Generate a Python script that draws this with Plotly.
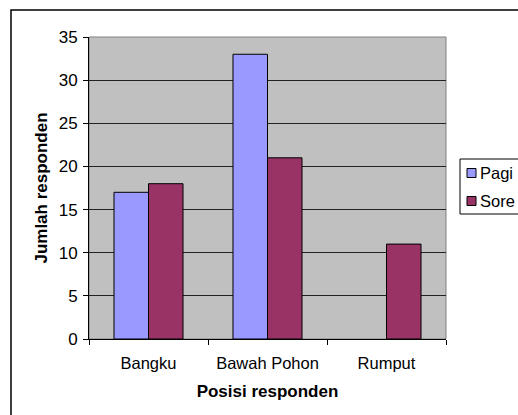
import plotly.graph_objects as go

# Response counts per seating position, morning vs afternoon
positions = ["Bangku", "Bawah Pohon", "Rumput"]
pagi = [17, 33, 0]
sore = [18, 21, 11]
y_ticks = [0, 5, 10, 15, 20, 25, 30, 35]

series_names = ["Pagi", "Sore"]
series_colors = ["#9999FF", "#993366"]

W, H = 518, 415
L, R, T, B = 89, 72, 37, 76
pw, ph = W - L - R, H - T - B


def px_x(x):
    return (x - L) / pw


def px_y(y):
    return (H - B - y) / ph


font = "Liberation Sans, Arial, sans-serif"

fig = go.Figure()
for name, vals, color in zip(series_names, [pagi, sore], series_colors):
    fig.add_trace(go.Bar(
        name=name, x=positions, y=vals,
        marker=dict(color=color,
                    line=dict(color="black", width=[1 if v else 0 for v in vals])),
        showlegend=False,
    ))

fig.update_layout(
    width=W, height=H,
    margin=dict(l=L, r=R, t=T, b=B, autoexpand=False),
    paper_bgcolor="white",
    plot_bgcolor="#C0C0C0",
    barmode="group",
    bargap=0.42,
    bargroupgap=0,
    font=dict(family=font, size=16, color="black"),
    xaxis=dict(
        title=dict(text="<b>Posisi responden</b>", font=dict(size=17), standoff=14),
        showline=True, linecolor="black", linewidth=1,
        ticks="outside", tickson="boundaries", ticklen=5, tickcolor="black",
        tickfont=dict(size=16.5), ticklabelstandoff=9,
        showgrid=False,
    ),
    yaxis=dict(
        title=dict(text="<b>Jumlah responden</b>", font=dict(size=17), standoff=6),
        range=[0, 35], tickvals=y_ticks,
        showline=True, linecolor="black", linewidth=1,
        ticks="outside", ticklen=5, tickcolor="black",
        tickfont=dict(size=17), ticklabelstandoff=2,
        showgrid=True, gridcolor="#222222", gridwidth=1,
        zeroline=False,
    ),
    showlegend=False,
)

# plot area frame on the top and right sides
fig.add_shape(type="rect", xref="paper", yref="paper", x0=0, x1=1, y0=0, y1=1,
              line=dict(color="#808080", width=1), layer="below")
# outer chart border
fig.add_shape(type="rect", xref="paper", yref="paper",
              x0=px_x(11), x1=px_x(530), y0=px_y(430), y1=px_y(10),
              line=dict(color="black", width=1.5), layer="below")

# legend box with swatches and series names
fig.add_shape(type="rect", xref="paper", yref="paper",
              x0=px_x(460), x1=px_x(530), y0=px_y(214), y1=px_y(159),
              line=dict(color="black", width=1), fillcolor="white")
for i, (name, color) in enumerate(zip(series_names, series_colors)):
    cy = 173 + 28 * i
    fig.add_shape(type="rect", xref="paper", yref="paper",
                  x0=px_x(467), x1=px_x(476), y0=px_y(cy + 4.5), y1=px_y(cy - 4.5),
                  line=dict(color="black", width=1), fillcolor=color)
    fig.add_annotation(xref="paper", yref="paper", x=px_x(478), y=px_y(cy),
                       text=name, showarrow=False, xanchor="left", yanchor="middle",
                       font=dict(size=16.5))

fig.write_html("out.html")
